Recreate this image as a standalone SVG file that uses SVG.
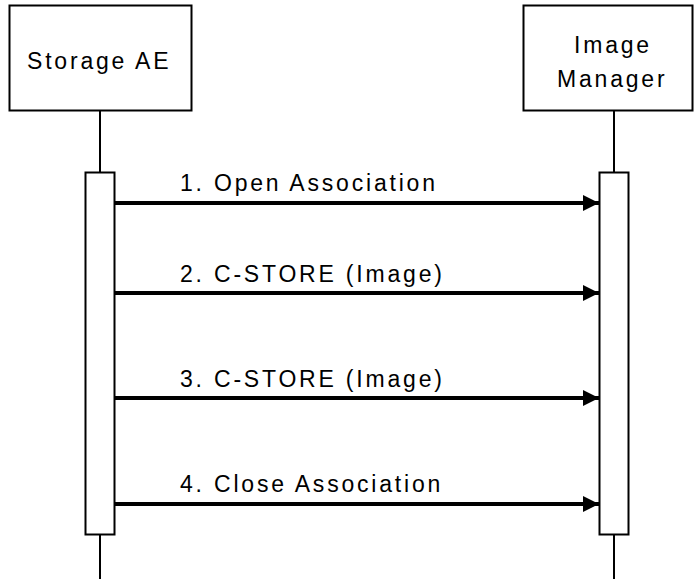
<svg xmlns="http://www.w3.org/2000/svg" width="694" height="579" viewBox="0 0 694 579">
<style>
.box{fill:#fff;stroke:#000;stroke-width:2}
.life{stroke:#000;stroke-width:2;fill:none}
.msg{stroke:#000;stroke-width:4;fill:none}
.t{font-family:"Liberation Sans",Arial,sans-serif;font-size:23px;letter-spacing:2.8px;fill:#000}
</style>
<defs>
<marker id="ah" markerUnits="userSpaceOnUse" markerWidth="18" markerHeight="18" refX="16" refY="8" orient="auto">
<path d="M0,0 L16,8 L0,16 Z" fill="#000"/>
</marker>
</defs>
<g id="storage-ae">
<line class="life" x1="100" y1="111" x2="100" y2="579"/>
<rect class="box" x="9.5" y="5.5" width="182" height="105"/>
<text class="t" x="27" y="69">Storage AE</text>
<rect class="box" x="85.5" y="172.5" width="29" height="362"/>
</g>
<g id="image-manager">
<line class="life" x1="614" y1="111" x2="614" y2="579"/>
<rect class="box" x="523.5" y="5.5" width="169" height="105"/>
<text class="t" x="574" y="53">Image</text>
<text class="t" x="557" y="87">Manager</text>
<rect class="box" x="599.5" y="172.5" width="29" height="362"/>
</g>
<g id="connectors">
<line class="msg" x1="115" y1="203" x2="599" y2="203" marker-end="url(#ah)"/>
<line class="msg" x1="115" y1="293" x2="599" y2="293" marker-end="url(#ah)"/>
<line class="msg" x1="115" y1="398" x2="599" y2="398" marker-end="url(#ah)"/>
<line class="msg" x1="115" y1="504" x2="599" y2="504" marker-end="url(#ah)"/>
<text class="t" x="180" y="191">1. Open Association</text>
<text class="t" x="180" y="282">2. C-STORE (Image)</text>
<text class="t" x="180" y="387">3. C-STORE (Image)</text>
<text class="t" x="180" y="492">4. Close Association</text>
</g>
</svg>
